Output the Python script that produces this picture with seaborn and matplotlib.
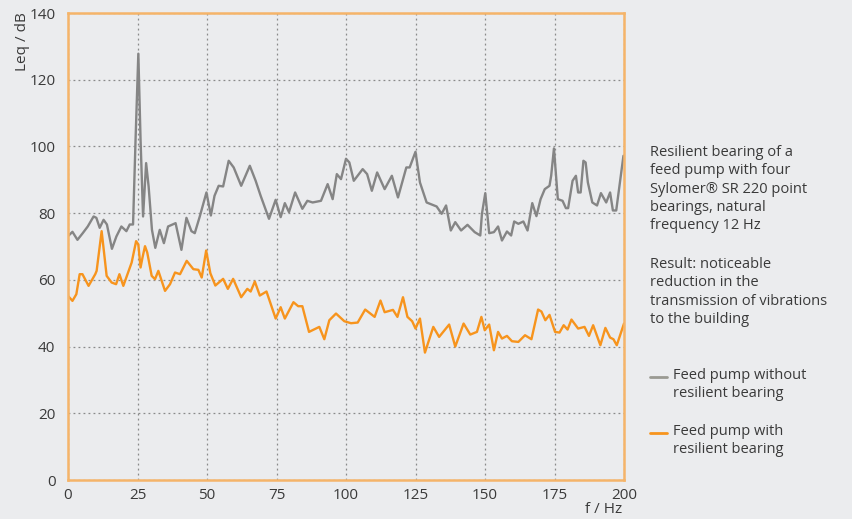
import numpy as np
import pandas as pd
import matplotlib
matplotlib.use("Agg")
import matplotlib.pyplot as plt
from matplotlib.lines import Line2D
import seaborn as sns

# Datos (frecuencia en Hz, nivel en dB)
freq_sin = [0, 1.6, 3.4, 5.3, 7.1, 9.2, 10.2, 11.4, 12.8, 14, 15.8, 17.4, 19.2, 21, 22.2, 23.4,
            24.3, 25.3, 26.1, 27, 28.1, 29, 30.2, 31.4, 33, 34.5, 36, 38.7, 40.8, 42.6, 44.4,
            45.6, 47.4, 49.8, 51.4, 52.7, 54.2, 55.8, 57.8, 59.6, 62.3, 65.4, 67.5, 69.3, 72.3,
            74.7, 76.5, 78, 79.5, 81.7, 84.3, 86.1, 88, 91, 93.4, 95.2, 96.7, 98.2, 100, 101.2,
            102.8, 106, 107.6, 109.3, 111.2, 113.9, 116.5, 118.7, 121.7, 122.9, 125, 126.6, 129,
            132.6, 134.4, 136, 137.7, 139.3, 141.4, 143.7, 146.3, 148.3, 148.9, 150.1, 151.5,
            153.2, 154.7, 156.1, 157.9, 159.4, 160.5, 162, 163.8, 165.3, 167, 168.5, 170, 171.5,
            173.2, 173.8, 174.8, 176.2, 177.9, 179.1, 179.9, 181.5, 182.7, 183.5, 184.4, 185.4,
            186.2, 187, 188.6, 190.3, 191.7, 193.6, 195, 196, 197.2, 199.8]
leq_sin = [73.1, 74.4, 72, 74, 76, 79, 78.6, 75.6, 78, 76.6, 69.3, 73, 76, 74.6, 76.6, 76.6,
           102, 127.8, 102, 79, 95, 88, 75, 69.6, 75, 71, 76, 77, 69, 78.6, 74.6,
           74, 79, 86.2, 79.3, 85.2, 88.2, 88, 95.7, 93.7, 88.2, 94.2, 89.7, 85.2, 78.3,
           84, 78.8, 83, 80.3, 86.2, 81.3, 83.7, 83.2, 83.7, 88.7, 84.2, 91.7, 90.2, 96.3, 95.2,
           89.7, 93.2, 91.7, 86.7, 92.2, 87.2, 91.2, 84.7, 93.7, 93.7, 98.4, 89.2, 83.2,
           82, 79.8, 82.3, 74.8, 77.3, 74.8, 76.5, 74.3, 73.3, 79.8, 86, 74,
           74.3, 76, 71.8, 74.5, 73.3, 77.5, 76.8, 77.5, 74.8, 83, 79.1, 84.2, 87.2,
           88.2, 91.2, 99.4, 84.2, 83.7, 81.5, 81.5, 89.7, 91.2, 86.2, 86.2, 95.7,
           95.2, 89.2, 83.2, 82.3, 86, 83.2, 86.2, 80.8, 80.8, 97.2]

freq_con = [0, 1.6, 3, 4.2, 5.2, 7.4, 9.8, 10.3, 12.1, 13.1, 13.9, 15.7, 17.3, 18.5, 19.9, 22.9,
            24.5, 25.3, 26.1, 26.8, 27.7, 28.5, 30.1, 31.3, 32.5, 33.7, 34.9, 36.7, 38.5, 40.3,
            42.7, 45.1, 46.9, 48.1, 49.7, 51.2, 53, 55.8, 57.5, 59.4, 62.3, 64.5, 65.7, 67.2, 69,
            71.4, 74.7, 76.5, 78, 81.1, 82.8, 84.3, 86.7, 90.4, 92.2, 94, 96.4, 99.4, 101.8,
            104.2, 106.9, 110.3, 112.4, 113.9, 116.9, 118.5, 120.5, 122.1, 123.8, 125, 126.6,
            128.4, 131.4, 133.5, 137.1, 139.3, 142.3, 144.7, 147.1, 148.7, 149.9, 151.5, 153.2,
            154.7, 156.1, 157.9, 159.7, 162, 164.4, 166.7, 169.1, 170.3, 171.7, 173.2, 175.2,
            176.8, 178.3, 179.7, 181.1, 183.5, 185.8, 187.4, 188.9, 191.5, 193.3, 195, 196.2,
            197.4, 200]
leq_con = [55.2, 53.7, 55.7, 61.7, 61.7, 58.2, 61.7, 62.7, 74.6, 67.2, 61.2, 59.2, 58.7, 61.7, 58.2, 65.2,
           71.6, 70.6, 63.7, 66.7, 70.1, 68.2, 61.2, 60.2, 62.7, 59.7, 56.7, 58.7, 62.2, 61.7,
           65.7, 63.2, 63, 60.7, 68.8, 62, 58.3, 60.3, 57.3, 60.3, 54.8, 57.3, 56.5, 59.5, 55.3,
           56.5, 48.4, 51.8, 48.4, 53.3, 52.1, 52.1, 44.4, 45.9, 42.2, 47.9, 49.9, 47.6, 47,
           47.2, 51.1, 48.9, 53.8, 50.3, 51, 48.9, 54.8, 48.9, 47.6, 45.4, 48.4,
           38.2, 45.9, 42.9, 46.6, 40, 46.9, 43.6, 44.4, 48.9, 44.9, 46.6, 38.9,
           44.4, 42.4, 43.2, 41.6, 41.4, 43.4, 42.2, 51.1, 50.5, 47.9, 49.5, 44.4,
           44.2, 46.4, 45.1, 48.1, 45.4, 45.9, 43.2, 46.4, 40.4, 45.6, 42.7, 42.2,
           40.4, 46.9]

serie_sin = "Feed pump without\nresilient bearing"
serie_con = "Feed pump with\nresilient bearing"
x_ticks = [0, 25, 50, 75, 100, 125, 150, 175, 200]
y_ticks = [0, 20, 40, 60, 80, 100, 120, 140]

# Colores
FONDO = "#ebecee"
GRIS = "#858585"
GRIS_LEYENDA = "#9a9a92"
NARANJA = "#f7941d"
EJE = "#f5b469"
TEXTO = "#3a3a3a"

sns.set_theme(style="white")
plt.rcParams["font.family"] = ["Open Sans", "DejaVu Sans"]
plt.rcParams["text.color"] = TEXTO
plt.rcParams["xtick.color"] = TEXTO
plt.rcParams["ytick.color"] = TEXTO

df = pd.concat([
    pd.DataFrame({"f": freq_sin, "leq": leq_sin, "serie": serie_sin}),
    pd.DataFrame({"f": freq_con, "leq": leq_con, "serie": serie_con}),
])

fig = plt.figure(figsize=(8.52, 5.19), dpi=100, facecolor=FONDO)
ax = fig.add_axes([68 / 852, 1 - 480 / 519, (624 - 68) / 852, (480 - 13) / 519])
ax.set_facecolor(FONDO)

sns.lineplot(data=df, x="f", y="leq", hue="serie", palette={serie_sin: GRIS, serie_con: NARANJA},
             linewidth=1.7, ax=ax, legend=False, estimator=None, sort=False)

ax.set_xlim(0, 200)
ax.set_ylim(0, 140)
ax.set_xticks(x_ticks)
ax.set_yticks(y_ticks)
ax.tick_params(axis="both", length=0, labelsize=11)
ax.tick_params(axis="x", pad=6)
ax.tick_params(axis="y", pad=9)
ax.set_xlabel("")
ax.set_ylabel("")
ax.grid(True, linestyle=(0, (1.5, 2.5)), color="#8a8a8a", linewidth=0.9)
for spine in ax.spines.values():
    spine.set_visible(True)
    spine.set_color(EJE)
    spine.set_linewidth(1.8)

# Etiquetas de ejes
fig.text(22 / 852, 1 - 12 / 519, "Leq / dB", rotation=90, ha="center", va="top", fontsize=11)
fig.text(622 / 852, 1 - 502 / 519, "f / Hz", ha="right", va="top", fontsize=11)

# Texto descriptivo
fig.text(650 / 852, 1 - 145 / 519,
         "Resilient bearing of a\nfeed pump with four\nSylomer\u00ae SR 220 point\n"
         "bearings, natural\nfrequency 12 Hz",
         ha="left", va="top", fontsize=10.5, linespacing=1.3)
fig.text(650 / 852, 1 - 257 / 519,
         "Result: noticeable\nreduction in the\ntransmission of vibrations\nto the building",
         ha="left", va="top", fontsize=10.5, linespacing=1.3)

# Leyenda manual
for y_px, color, label in [(377, GRIS_LEYENDA, serie_sin), (433, NARANJA, serie_con)]:
    yf = 1 - y_px / 519
    fig.add_artist(Line2D([650 / 852, 667 / 852], [yf, yf], color=color, linewidth=2,
                          transform=fig.transFigure))
    fig.text(673 / 852, 1 - (y_px - 9) / 519, label, ha="left", va="top",
             fontsize=10.5, linespacing=1.3)

plt.savefig("out.png", dpi=100, facecolor=FONDO)
